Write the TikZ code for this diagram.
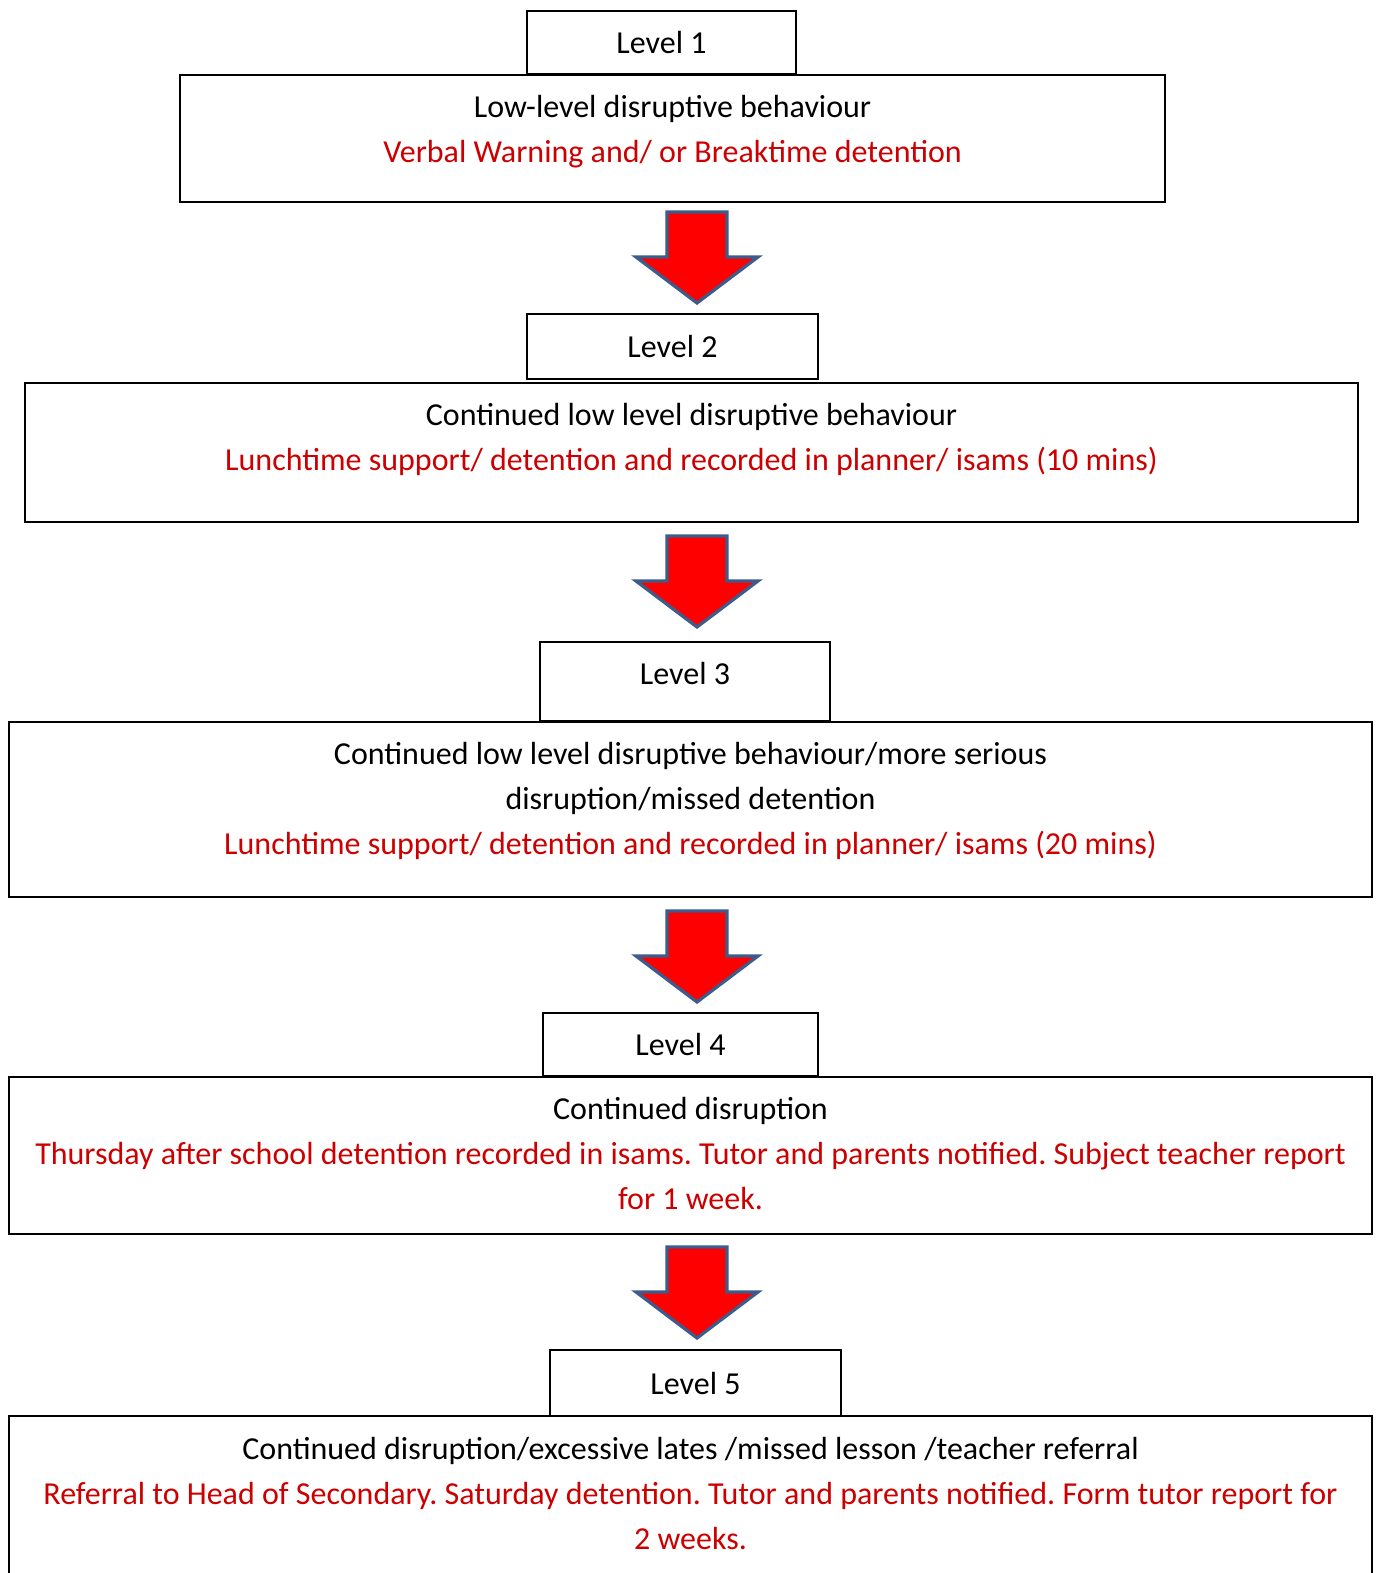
\documentclass[tikz,border=0pt]{standalone}
\usepackage{fontspec}
\setmainfont{Carlito}
\usetikzlibrary{positioning}
\definecolor{notered}{RGB}{204,0,0}
\definecolor{arrowedge}{RGB}{60,92,140}
\newcommand{\blockarrow}[1]{%
  \filldraw[blockarrow, shift={(#1)}] (-30,0) -- (30,0) -- (30,45) -- (61,45)
    -- (0,91) -- (-61,45) -- (-30,45) -- cycle;}
\frenchspacing

\begin{document}
\begin{tikzpicture}[x=0.5pt, y=-0.5pt,
    box/.style={draw, line width=0.6pt, inner sep=0pt},
    levtext/.style={font=\fontsize{16}{19}\selectfont},
    lines/.style={align=center, inner sep=0pt, anchor=north, font=\fontsize{16}{22.5}\selectfont},
    blockarrow/.style={fill=red, draw=arrowedge, line width=1.6pt, line join=miter}]
    \clip (0,0) rectangle (1382,1573);

    % level 1
    \node[box, levtext, minimum width=134.5pt, minimum height=31.5pt] (lev1) at (661.5,42.5) {Level 1};
    \node[box, minimum width=492.5pt, minimum height=63.5pt] (b1) at (672.5,138.5) {};
    \node[lines, below=10pt of b1.north] (t1) {Low-level disruptive behaviour\\
        \textcolor{notered}{Verbal Warning and/ or Breaktime detention}};
    \coordinate (a1) at (697,212);
    \blockarrow{a1}

    % level 2
    \node[box, levtext, minimum width=145.5pt, minimum height=32.5pt] (lev2) at (672.5,346.5) {Level 2};
    \node[box, minimum width=666.5pt, minimum height=69.5pt] (b2) at (691.5,452.5) {};
    \node[lines, below=10pt of b2.north] (t2) {Continued low level disruptive behaviour\\
        \textcolor{notered}{Lunchtime support/ detention and recorded in planner/ isams (10 mins)}};
    \coordinate (a2) at (697,536);
    \blockarrow{a2}

    % level 3
    \node[box, levtext, minimum width=145pt, minimum height=39.5pt, text depth=8.5pt] (lev3) at (685,681.5) {Level 3};
    \node[box, minimum width=681.5pt, minimum height=87.5pt] (b3) at (690.5,809.5) {};
    \node[lines, below=10pt of b3.north] (t3) {Continued low level disruptive behaviour/more serious\\
        disruption/missed detention\\
        \textcolor{notered}{Lunchtime support/ detention and recorded in planner/ isams (20 mins)}};
    \coordinate (a3) at (697,911);
    \blockarrow{a3}

    % level 4
    \node[box, levtext, minimum width=137.5pt, minimum height=31.5pt] (lev4) at (680.5,1044.5) {Level 4};
    \node[box, minimum width=681.5pt, minimum height=78.5pt] (b4) at (690.5,1155.5) {};
    \node[lines, below=10pt of b4.north] (t4) {Continued disruption\\
        \textcolor{notered}{Thursday after school detention recorded in isams. Tutor and parents notified. Subject teacher report}\\
        \textcolor{notered}{for 1 week.}};
    \coordinate (a4) at (697,1247);
    \blockarrow{a4}

    % level 5
    \node[box, levtext, minimum width=145.5pt, minimum height=33pt] (lev5) at (695.5,1383) {Level 5};
    \node[box, minimum width=681.5pt, minimum height=92pt] (b5) at (690.5,1508) {};
    \node[lines, below=10.5pt of b5.north] (t5) {Continued disruption/excessive lates /missed lesson /teacher referral\\
        \textcolor{notered}{Referral to Head of Secondary. Saturday detention. Tutor and parents notified. Form tutor report for}\\
        \textcolor{notered}{2 weeks.}};
\end{tikzpicture}
\end{document}
